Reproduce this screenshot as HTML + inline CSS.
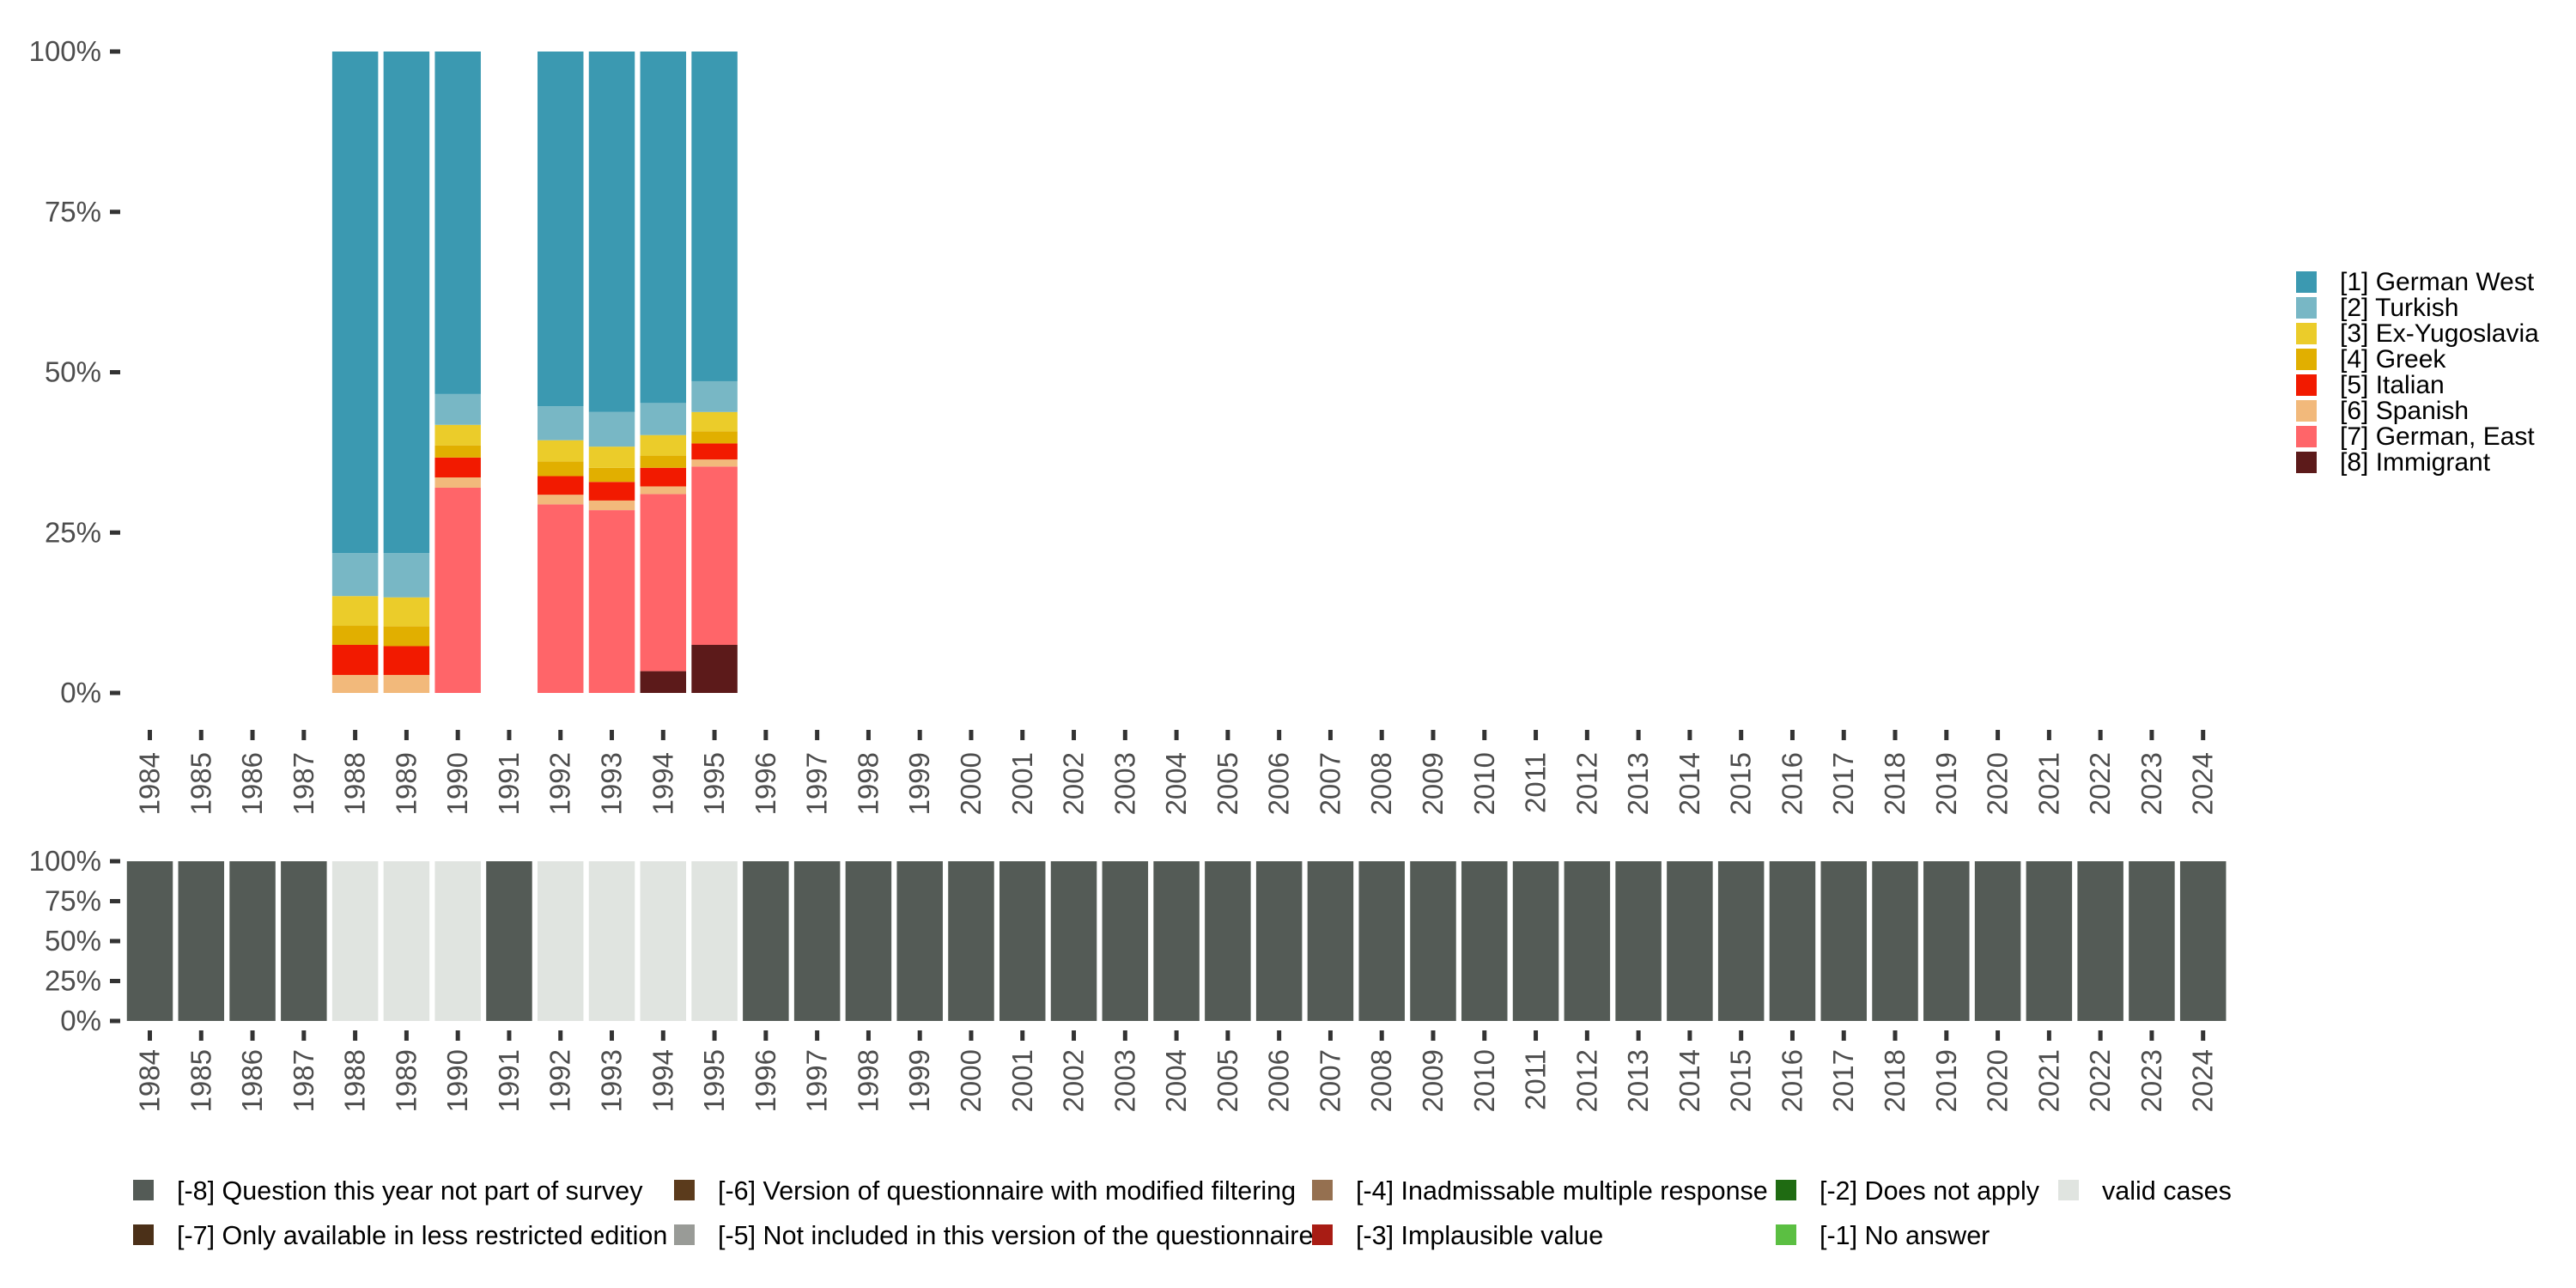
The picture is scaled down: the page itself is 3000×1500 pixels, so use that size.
<!DOCTYPE html>
<html><head><meta charset="utf-8">
<style>
html,body{margin:0;padding:0;background:#fff;}
svg{display:block;font-family:"Liberation Sans","DejaVu Sans",sans-serif;}
</style></head>
<body>
<svg id="chart" width="3000" height="1500" viewBox="0 0 3000 1500" xmlns="http://www.w3.org/2000/svg">
<g id="topplot"></g>
<g id="bottomplot"></g>
<g id="legend-right"></g>
<g id="legend-bottom"></g>
</svg>
<script>
const years = [];
for (let y = 1984; y <= 2024; y++) years.push(y);
const seriesNames = ["[1] German West","[2] Turkish","[3] Ex-Yugoslavia","[4] Greek","[5] Italian","[6] Spanish","[7] German, East","[8] Immigrant"];
const seriesColors = ["#3b99b1","#78b7c5","#ebcc2a","#e1af00","#f21a00","#f2b97b","#ff6569","#5c1a1a"];
const dataYears = [1988,1989,1990,1992,1993,1994,1995];
const germanWest = [78.2,78.2,53.4,55.3,56.2,54.8,51.4];
const turkish =    [6.7,6.9,4.8,5.3,5.4,5.0,4.8];
const exYugo =     [4.6,4.5,3.2,3.3,3.3,3.2,3.0];
const greek =      [3.0,3.1,1.9,2.3,2.2,1.9,1.9];
const italian =    [4.7,4.5,3.1,2.9,2.9,2.9,2.5];
const spanish =    [2.8,2.8,1.6,1.5,1.5,1.2,1.1];
const germanEast = [0,0,32.0,29.4,28.5,27.6,27.8];
const immigrant =  [0,0,0,0,0,3.4,7.5];
const yTicks = [0,25,50,75,100];
const yTickLabels = ["0%","25%","50%","75%","100%"];
const validYears = [1988,1989,1990,1992,1993,1994,1995];
const statusNames = ["[-8] Question this year not part of survey","[-7] Only available in less restricted edition","[-6] Version of questionnaire with modified filtering","[-5] Not included in this version of the questionnaire","[-4] Inadmissable multiple response","[-3] Implausible value","[-2] Does not apply","[-1] No answer","valid cases"];
const statusColors = ["#545b56","#4b3018","#5b3b1c","#999b97","#957050","#a81c14","#1f6b12","#5bbf42","#e0e4e0"];

const NS = "http://www.w3.org/2000/svg";
function mk(tag, attrs, parent){const e=document.createElementNS(NS,tag);for(const k in attrs)e.setAttribute(k,attrs[k]);parent.appendChild(e);return e;}
const x0 = 174.5, step = 59.78, bw = 53.5;
function xc(yr){return x0 + (yr-1984)*step;}
const topY0 = 807, topY1 = 60;
function yTop(v){return topY0 - v/100*(topY0-topY1);}
const botY0 = 1189, botY1 = 1003;
function yBot(v){return botY0 - v/100*(botY0-botY1);}

const topG = document.getElementById('topplot');
const stack = [immigrant,germanEast,spanish,italian,greek,exYugo,turkish,germanWest];
const stackIdx = [7,6,5,4,3,2,1,0];
dataYears.forEach((yr,i)=>{
  let cum = 0;
  stack.forEach((arr,s)=>{
    const v = arr[i]; if(v<=0) return;
    const r = mk('rect',{x:xc(yr)-bw/2,y:yTop(cum+v),width:bw,height:yTop(cum)-yTop(cum+v),fill:seriesColors[stackIdx[s]]},topG);
    
    
    cum += v;
  });
});
function yAxis(g, yf){
  yTicks.forEach((t,i)=>{
    const y = yf(t);
    const l = mk('line',{x1:128,x2:140,y1:y,y2:y,stroke:'#333','stroke-width':5},g);
    
    
    const tx = mk('text',{x:118,y:y+11,'text-anchor':'end','font-size':33,fill:'#4d4d4d'},g);
    tx.textContent = yTickLabels[i];
    
    
  });
}
function xAxis(g, tickY, labelY){
  years.forEach(yr=>{
    const x = xc(yr);
    const l = mk('line',{x1:x,x2:x,y1:tickY,y2:tickY+12,stroke:'#333','stroke-width':5},g);
    
    
    const tx = mk('text',{x:0,y:0,'text-anchor':'end','font-size':33,fill:'#4d4d4d',transform:`translate(${x+11},${labelY}) rotate(-90)`},g);
    tx.textContent = yr;
    
    
  });
}
yAxis(topG, yTop);
xAxis(topG, 850, 876);

const botG = document.getElementById('bottomplot');
years.forEach(yr=>{
  const valid = validYears.indexOf(yr) >= 0;
  const r = mk('rect',{x:xc(yr)-bw/2,y:yBot(100),width:bw,height:yBot(0)-yBot(100),fill:valid?statusColors[8]:statusColors[0]},botG);
  
  
});
yAxis(botG, yBot);
xAxis(botG, 1200, 1222);

const lr = document.getElementById('legend-right');
seriesNames.forEach((n,i)=>{
  const y = 316 + i*30;
  const r = mk('rect',{x:2674,y:y,width:24,height:25,fill:seriesColors[i]},lr);
  
  
  const t = mk('text',{x:2725,y:y+22,'font-size':30,fill:'#000'},lr);
  t.textContent = n;
  
  
});

const lb = document.getElementById('legend-bottom');
const colX = [155,785,1528,2068,2397];
statusNames.forEach((n,i)=>{
  const col = Math.floor(i/2), row = i%2;
  const x = colX[col], y = 1374 + row*52;
  const r = mk('rect',{x:x,y:y,width:24,height:24,fill:statusColors[i]},lb);
  
  
  const t = mk('text',{x:x+51,y:y+23,'font-size':30.5,fill:'#000'},lb);
  t.textContent = n;
  
  
});
</script>
</body></html>
